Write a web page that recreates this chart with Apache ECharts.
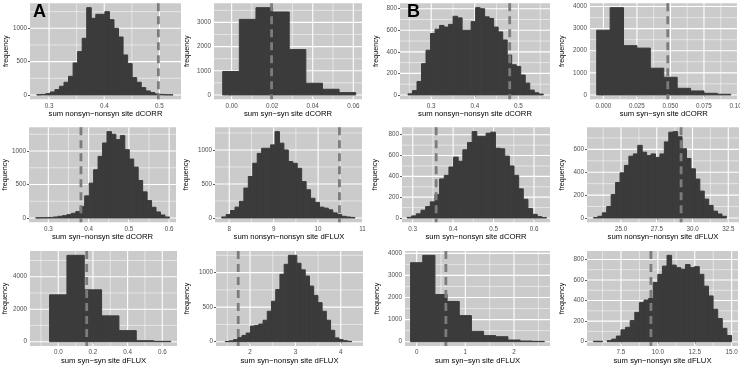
<!DOCTYPE html>
<html>
<head>
<meta charset="utf-8">
<script src="https://cdn.jsdelivr.net/npm/echarts@6/dist/echarts.min.js"></script>
<style>
  html, body { margin: 0; padding: 0; background: #fff; }
  #chart { width: 740px; height: 368px; }
</style>
</head>
<body>
<div id="chart"></div>
<script>
// panels are listed row by row: A, A, B, B
const xTitles = [
  'sum nonsyn\u2212nonsyn site dCORR', 'sum syn\u2212syn site dCORR', 'sum nonsyn\u2212nonsyn site dCORR', 'sum syn\u2212syn site dCORR',
  'sum syn\u2212nonsyn site dCORR', 'sum nonsyn\u2212nonsyn site dFLUX', 'sum syn\u2212nonsyn site dCORR', 'sum nonsyn\u2212nonsyn site dFLUX',
  'sum syn\u2212syn site dFLUX', 'sum syn\u2212nonsyn site dFLUX', 'sum syn\u2212syn site dFLUX', 'sum syn\u2212nonsyn site dFLUX'
]

const aNnCorrCounts = [3, 8, 20, 45, 80, 130, 190, 280, 480, 650, 850, 1310, 1150, 1210, 1210, 1250, 1130, 1000, 870, 600, 470, 260, 190, 110, 60, 35, 15, 8, 3, 2]
const aSsCorrCounts = [970, 3125, 3610, 3430, 1875, 485, 235, 95]
const bNnCorrCounts = [10, 40, 125, 290, 415, 570, 610, 645, 630, 655, 730, 715, 600, 600, 680, 810, 800, 725, 710, 630, 585, 510, 370, 280, 265, 185, 110, 45, 20, 8]
const bSsCorrCounts = [2930, 3950, 2230, 2120, 1210, 800, 300, 180, 75, 30]
const aSnCorrCounts = [2, 3, 5, 8, 15, 25, 35, 50, 70, 95, 170, 330, 520, 720, 920, 1120, 1290, 1250, 1170, 1230, 1020, 880, 760, 560, 390, 260, 160, 90, 45, 15]
const aNnFluxCounts = [15, 50, 110, 160, 245, 440, 610, 805, 950, 1025, 1025, 1075, 1270, 1100, 1000, 830, 805, 730, 535, 415, 290, 230, 160, 145, 120, 75, 50, 25, 15, 8]
const bSnCorrCounts = [6, 20, 40, 75, 110, 155, 225, 375, 410, 490, 585, 545, 655, 725, 830, 785, 785, 815, 825, 670, 665, 595, 500, 410, 280, 180, 90, 35, 13, 4]
const bNnFluxCounts = [3, 15, 45, 100, 205, 310, 395, 460, 540, 560, 635, 575, 545, 560, 530, 560, 665, 750, 755, 710, 605, 520, 430, 340, 235, 165, 110, 60, 35, 15]
const aSsFluxCounts = [2885, 5320, 3195, 1590, 680, 60, 20]
const aSnFluxCounts = [3, 12, 30, 60, 90, 125, 225, 235, 255, 310, 440, 585, 755, 975, 1120, 1250, 1250, 1135, 1040, 950, 805, 670, 565, 440, 310, 165, 55, 30, 15, 5]
const bSsFluxCounts = [3575, 3910, 2135, 1820, 1180, 470, 275, 225, 75, 30, 15]
const bSnFluxCounts = [4, 4, 0, 10, 25, 55, 115, 140, 205, 285, 380, 405, 420, 575, 655, 735, 840, 745, 720, 705, 750, 720, 730, 655, 540, 445, 315, 225, 130, 60]

const panelCounts = [
  aNnCorrCounts, aSsCorrCounts, bNnCorrCounts, bSsCorrCounts,
  aSnCorrCounts, aNnFluxCounts, bSnCorrCounts, bNnFluxCounts,
  aSsFluxCounts, aSnFluxCounts, bSsFluxCounts, bSnFluxCounts
]
const binStarts = [0.2777, -0.0044, 0.2468, -0.005, 0.2685, 7.83, 0.286, 23.07, -0.05, 1.45, -0.125, 5.63]
const binWidths = [0.00823, 0.0082, 0.01034, 0.01, 0.01107, 0.1, 0.0115, 0.31, 0.1, 0.093, 0.25, 0.312]
// observed value (dashed line)
const observed = [0.498, 0.0197, 0.48, 0.048, 0.381, 10.48, 0.358, 29.2, 0.164, 1.74, 0.6, 9.53]
const xRanges = [
  [0.2655, 0.539], [-0.0087, 0.0643], [0.2285, 0.5724], [-0.01, 0.1],
  [0.252, 0.617], [7.68, 11.01], [0.2735, 0.6395], [22.62, 33.25],
  [-0.163, 0.685], [1.25, 4.49], [-0.24, 2.74], [5.2, 15.43]
]
const xTickLabels = [
  ['0.3', '0.4', '0.5'], ['0.00', '0.02', '0.04', '0.06'], ['0.3', '0.4', '0.5'], ['0.000', '0.025', '0.050', '0.075', '0.100'],
  ['0.3', '0.4', '0.5', '0.6'], ['8', '9', '10', '11'], ['0.3', '0.4', '0.5', '0.6'], ['25.0', '27.5', '30.0', '32.5'],
  ['0.0', '0.2', '0.4', '0.6'], ['2', '3', '4'], ['0', '1', '2'], ['7.5', '10.0', '12.5', '15.0']
]
const yTicks = [
  [0, 500, 1000], [0, 1000, 2000, 3000], [0, 200, 400, 600, 800], [0, 1000, 2000, 3000, 4000],
  [0, 500, 1000], [0, 500, 1000], [0, 200, 400, 600, 800], [0, 200, 400, 600, 800],
  [0, 2000, 4000], [0, 500, 1000], [0, 1000, 2000, 3000, 4000], [0, 200, 400, 600, 800]
]

// layout (px)
const lefts = [30, 214, 400, 590, 29, 215, 402, 587, 30, 216, 405, 587]
const rights = [181, 362, 550, 737.5, 176, 363, 550, 739, 177, 363, 550, 738]
const rowTops = [3.3, 127.3, 251]
const rowHeights = [96, 95, 95]
const xNameGaps = [11, 11, 10]
const yNameGaps = [20, 23, 20, 24, 20, 25, 23, 21, 21, 25, 24, 21]

const font = 'Liberation Sans, Arial, sans-serif'
const barColor = '#3b3b3b'
const panelColor = '#cbcbcb'

function minorsOf (majors, lo, hi) {
  const step = majors[1] - majors[0]
  const out = [majors[0] - step / 2]
  for (let i = 0; i < majors.length - 1; i++) out.push((majors[i] + majors[i + 1]) / 2)
  out.push(majors[majors.length - 1] + step / 2)
  return out.filter(v => v > lo && v < hi)
}

function renderBar (params, api) {
  if (api.value(2) <= 0) return
  const a = api.coord([api.value(0), 0])
  const b = api.coord([api.value(1), api.value(2)])
  return {
    type: 'rect',
    shape: { x: a[0], y: b[1], width: b[0] - a[0], height: a[1] - b[1] },
    style: { fill: barColor, stroke: barColor, lineWidth: 1 }
  }
}

function renderGridLine (params, api) {
  const cs = params.coordSys
  const v = api.value(0)
  const kind = api.value(1)
  const w = kind % 2 === 0 ? 1.1 : 0.5
  if (kind < 2) {
    const x = api.coord([v, 0])[0]
    return { type: 'line', shape: { x1: x, y1: cs.y, x2: x, y2: cs.y + cs.height }, style: { stroke: '#fff', lineWidth: w } }
  }
  const y = api.coord([0, v])[1]
  return { type: 'line', shape: { x1: cs.x, y1: y, x2: cs.x + cs.width, y2: y }, style: { stroke: '#fff', lineWidth: w } }
}

function renderObserved (params, api) {
  const cs = params.coordSys
  const x = api.coord([api.value(0), 0])[0]
  return {
    type: 'line',
    shape: { x1: x, y1: cs.y, x2: x, y2: cs.y + cs.height },
    style: { stroke: '#7c7c7c', lineWidth: 2.8, lineDash: [8, 5] }
  }
}

const grids = []
const xAxes = []
const yAxes = []
const series = []

panelCounts.forEach(function (counts, i) {
  const row = Math.floor(i / 4)
  const maxCount = Math.max.apply(null, counts)
  const yMin = -0.05 * maxCount
  const yMax = 1.05 * maxCount
  const [xMin, xMax] = xRanges[i]
  const xTicks = xTickLabels[i].map(Number)

  grids.push({
    left: lefts[i],
    top: rowTops[row],
    width: rights[i] - lefts[i],
    height: rowHeights[row],
    outerBoundsMode: 'none',
    containLabel: false,
    show: true,
    backgroundColor: panelColor,
    borderWidth: 0
  })

  xAxes.push({
    type: 'value',
    gridIndex: i,
    min: xMin,
    max: xMax,
    name: xTitles[i],
    nameLocation: 'middle',
    nameGap: xNameGaps[row],
    nameTextStyle: { fontSize: 7.7, color: '#000', fontFamily: font },
    axisLine: { show: false },
    splitLine: { show: false },
    axisTick: { show: true, length: 2, customValues: xTicks, lineStyle: { color: '#333', width: 0.8 } },
    axisLabel: {
      customValues: xTicks,
      margin: 3.5,
      fontSize: 6.3,
      color: '#4d4d4d',
      fontFamily: font,
      formatter: v => xTickLabels[i][xTicks.indexOf(v)]
    }
  })

  yAxes.push({
    type: 'value',
    gridIndex: i,
    min: yMin,
    max: yMax,
    name: 'frequency',
    nameLocation: 'middle',
    nameGap: yNameGaps[i],
    nameTextStyle: { fontSize: 7.2, color: '#000', fontFamily: font },
    axisLine: { show: false },
    splitLine: { show: false },
    axisTick: { show: true, length: 2, customValues: yTicks[i], lineStyle: { color: '#333', width: 0.8 } },
    axisLabel: {
      customValues: yTicks[i],
      margin: 3,
      fontSize: 6.3,
      color: '#4d4d4d',
      fontFamily: font,
      formatter: v => String(v)
    }
  })

  const lines = []
  xTicks.forEach(v => lines.push([v, 0]))
  minorsOf(xTicks, xMin, xMax).forEach(v => lines.push([v, 1]))
  yTicks[i].forEach(v => lines.push([v, 2]))
  minorsOf(yTicks[i], yMin, yMax).forEach(v => lines.push([v, 3]))

  series.push({
    type: 'custom',
    xAxisIndex: i,
    yAxisIndex: i,
    silent: true,
    z: 1,
    renderItem: renderGridLine,
    data: lines
  })

  series.push({
    type: 'custom',
    xAxisIndex: i,
    yAxisIndex: i,
    z: 2,
    renderItem: renderBar,
    encode: { x: [0, 1], y: 2 },
    data: counts.map((c, k) => [binStarts[i] + k * binWidths[i], binStarts[i] + (k + 1) * binWidths[i], c])
  })

  series.push({
    type: 'custom',
    xAxisIndex: i,
    yAxisIndex: i,
    silent: true,
    z: 3,
    renderItem: renderObserved,
    data: [[observed[i], 0]]
  })
})

const myChart = echarts.init(document.getElementById('chart'), null, { renderer: 'canvas' })

myChart.setOption({
  animation: false,
  title: [
    { text: 'A', left: 33, top: 3, padding: 0, textStyle: { fontSize: 18, fontWeight: 'bold', color: '#000', fontFamily: font } },
    { text: 'B', left: 407, top: 3, padding: 0, textStyle: { fontSize: 18, fontWeight: 'bold', color: '#000', fontFamily: font } }
  ],
  grid: grids,
  xAxis: xAxes,
  yAxis: yAxes,
  series: series
})
</script>
</body>
</html>
